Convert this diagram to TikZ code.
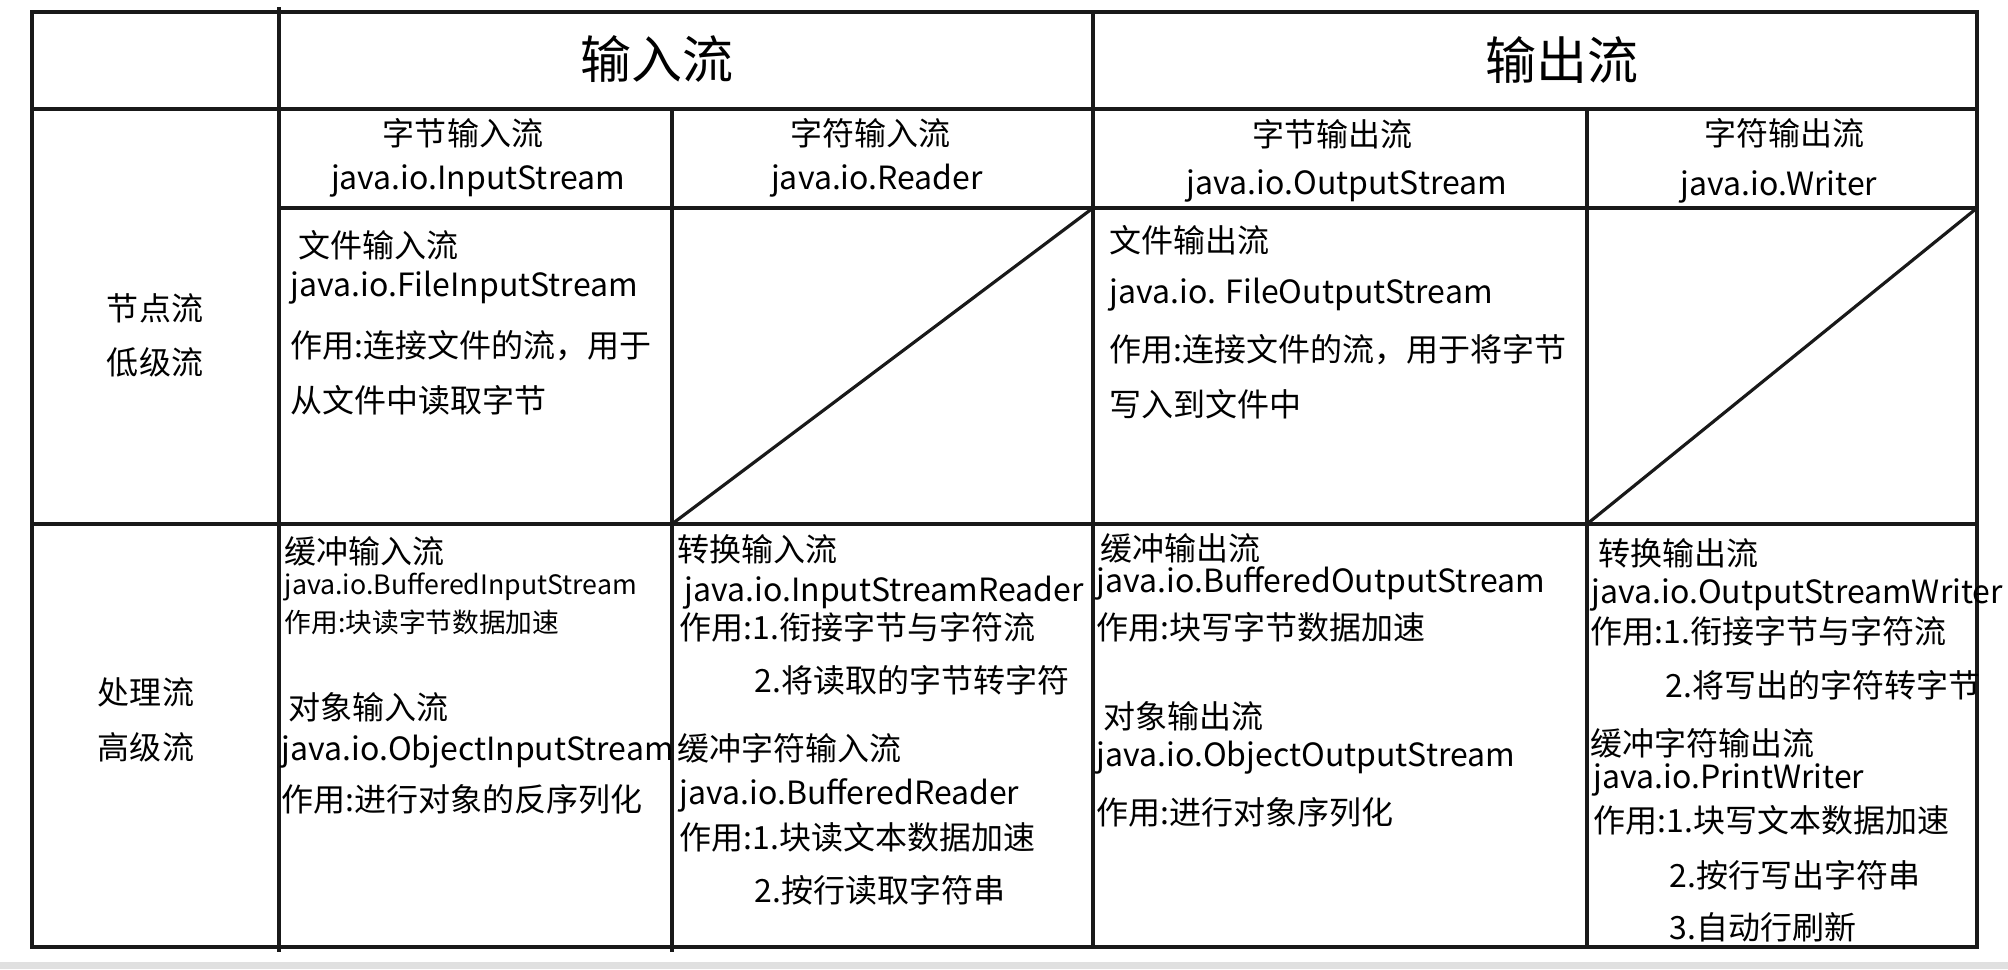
\documentclass[tikz,border=0pt]{standalone}
\usepackage{fontspec}
\setmainfont{Noto Sans CJK SC}
\usepackage{tikz}
\usetikzlibrary{positioning}

\tikzset{
  rule/.style={line width=1pt, draw=black!90},
  slash/.style={line width=0.9pt, draw=black!90},
  celltext/.style={anchor=west, inner sep=0pt, font=\fontsize{9.1}{11}\selectfont},
  smallcell/.style={celltext, font=\fontsize{7.6}{9}\selectfont},
  headtext/.style={inner sep=0pt, font=\fontsize{14.5}{17}\selectfont},
  subtext/.style={inner sep=0pt, font=\fontsize{9.1}{11}\selectfont},
}

\begin{document}
\begin{tikzpicture}[x=0.01cm, y=-0.01cm, text=black]
\useasboundingbox (0,0) rectangle (2008,969);
\fill[black!12] (0,962) rectangle (2008,969);

% grid corners
\coordinate (nodeA) at (279,208);
\coordinate (nodeC) at (1093,208);
\coordinate (procA) at (279,524);
\coordinate (procB) at (672,524);
\coordinate (procC) at (1093,524);
\coordinate (procD) at (1587,524);

\draw[rule] (32,12) rectangle (1977,947);
\draw[rule] (32,109) -- (1977,109);
\draw[rule] (279,208) -- (1977,208);
\draw[rule] (32,524) -- (1977,524);
\draw[rule] (279,7) -- (279,952);
\draw[rule] (672,109) -- (672,952);
\draw[rule] (1093,12) -- (1093,947);
\draw[rule] (1587,109) -- (1587,947);
\draw[slash] (procB) -- (nodeC);
\draw[slash] (procD) -- (1977,208);

% headers
\path (657,59) node (inHead) [headtext] {输入流};
\path (1562,60) node (outHead) [headtext] {输出流};

\path (463,133) node (byteIn) [subtext] {字节输入流};
\path (478,181) node (byteInCls) [subtext] {java.io.InputStream};
\path (870,133) node (charIn) [subtext] {字符输入流};
\path (877,181) node (charInCls) [subtext] {java.io.Reader};
\path (1332,134) node (byteOut) [subtext] {字节输出流};
\path (1347,186) node (byteOutCls) [subtext] {java.io.OutputStream};
\path (1784,133) node (charOut) [subtext] {字符输出流};
\path (1779,187) node (charOutCls) [subtext] {java.io.Writer};

\path (155,308) node (lowA) [subtext] {节点流};
\path (155,362) node (lowB) [subtext] {低级流};
\path (146,692) node (highA) [subtext] {处理流};
\path (146,747) node (highB) [subtext] {高级流};

% node streams
\path (nodeA)+(19,37) node (fileIn) [celltext] {文件输入流};
\path (nodeA)+(11,80) node (fileInCls) [celltext] {java.io.FileInputStream};
\path (nodeA)+(11,138) node (fileInUse) [celltext] {作用:连接文件的流，用于};
\path (nodeA)+(11,192) node (fileInUse2) [celltext] {从文件中读取字节};

\path (nodeC)+(16,32) node (fileOut) [celltext] {文件输出流};
\path (nodeC)+(16,87) node (fileOutCls) [celltext] {java.io. FileOutputStream};
\path (nodeC)+(16,142) node (fileOutUse) [celltext] {作用:连接文件的流，用于将字节};
\path (nodeC)+(16,196) node (fileOutUse2) [celltext] {写入到文件中};

% processing streams
\path (procA)+(5,27) node (bufIn) [celltext] {缓冲输入流};
\path (procA)+(5,63) node (bufInCls) [smallcell] {java.io.BufferedInputStream};
\path (procA)+(5,98) node (bufInUse) [smallcell] {作用:块读字节数据加速};
\path (procA)+(9,183) node (objIn) [celltext] {对象输入流};
\path (procA)+(2,228) node (objInCls) [celltext] {java.io.ObjectInputStream};
\path (procA)+(2,275) node (objInUse) [celltext] {作用:进行对象的反序列化};

\path (procB)+(5,25) node (isr) [celltext] {转换输入流};
\path (procB)+(12,69) node (isrCls) [celltext] {java.io.InputStreamReader};
\path (procB)+(7,103) node (isrUse) [celltext] {作用:1.衔接字节与字符流};
\path (procB)+(82,156) node (isrUse2) [celltext] {2.将读取的字节转字符};
\path (procB)+(5,224) node (bufRd) [celltext] {缓冲字符输入流};
\path (procB)+(7,271) node (bufRdCls) [celltext] {java.io.BufferedReader};
\path (procB)+(7,313) node (bufRdUse) [celltext] {作用:1.块读文本数据加速};
\path (procB)+(82,366) node (bufRdUse2) [celltext] {2.按行读取字符串};

\path (procC)+(7,24) node (bufOut) [celltext] {缓冲输出流};
\path (procC)+(3,59) node (bufOutCls) [celltext] {java.io.BufferedOutputStream};
\path (procC)+(3,103) node (bufOutUse) [celltext] {作用:块写字节数据加速};
\path (procC)+(10,192) node (objOut) [celltext] {对象输出流};
\path (procC)+(3,234) node (objOutCls) [celltext] {java.io.ObjectOutputStream};
\path (procC)+(3,288) node (objOutUse) [celltext] {作用:进行对象序列化};

\path (procD)+(11,29) node (osw) [celltext] {转换输出流};
\path (procD)+(4,71) node (oswCls) [celltext] {java.io.OutputStreamWriter};
\path (procD)+(3,107) node (oswUse) [celltext] {作用:1.衔接字节与字符流};
\path (procD)+(78,161) node (oswUse2) [celltext] {2.将写出的字符转字节};
\path (procD)+(3,219) node (pw) [celltext] {缓冲字符输出流};
\path (procD)+(6,256) node (pwCls) [celltext] {java.io.PrintWriter};
\path (procD)+(6,296) node (pwUse) [celltext] {作用:1.块写文本数据加速};
\path (procD)+(82,351) node (pwUse2) [celltext] {2.按行写出字符串};
\path (procD)+(82,403) node (pwUse3) [celltext] {3.自动行刷新};
\end{tikzpicture}
\end{document}
